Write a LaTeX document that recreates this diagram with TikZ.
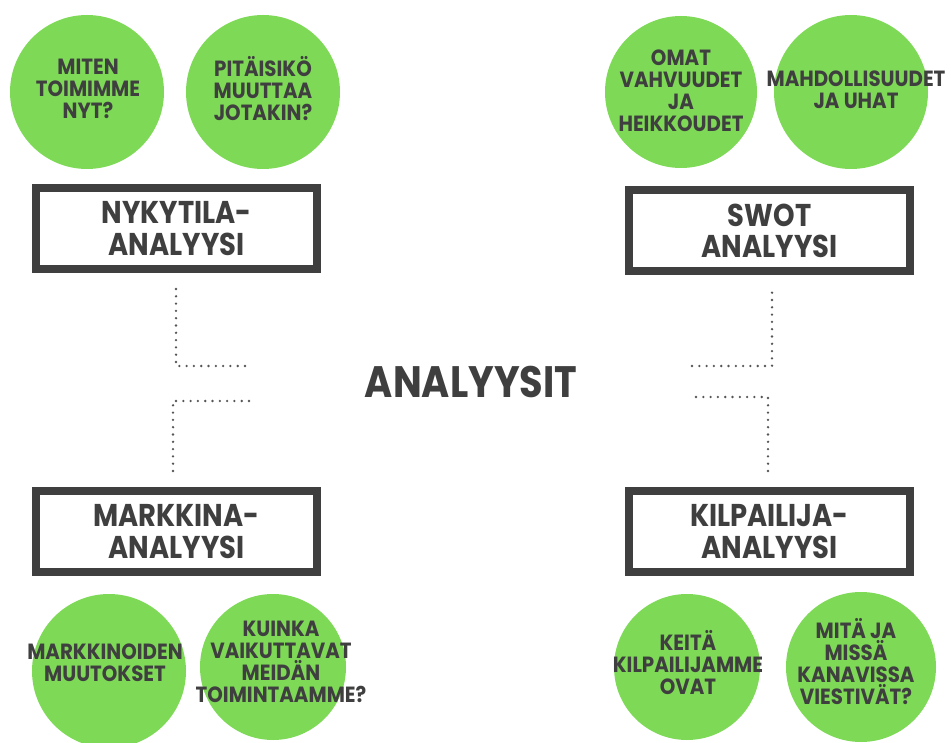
\documentclass[tikz,border=0pt]{standalone}
\usepackage{fontspec}
\newfontfamily\pop{Poppins}[FakeStretch=0.87]
\newfontfamily\popw{Poppins}[FakeStretch=0.9]
\definecolor{grn}{HTML}{7ED957}
\definecolor{ink}{HTML}{3F3F3F}
\definecolor{dotc}{HTML}{555555}
\tikzset{
  bubble/.style={circle, fill=grn, draw=none, inner sep=0pt},
  bubtext/.style={text=ink, align=center, inner sep=0pt, font=\popw\bfseries\fontsize{22}{22}\selectfont},
  headbox/.style={rectangle, draw=ink, line width=8pt, fill=white, minimum width=281pt, minimum height=81pt, inner sep=0pt, text=ink, align=center, font=\pop\bfseries\fontsize{31.5}{31.5}\selectfont},
  dotline/.style={draw=dotc, line width=2.6pt, line cap=round, dash pattern=on 0pt off 7.3pt}
}
\begin{document}
\begin{tikzpicture}[x=1pt,y=-1pt]
\useasboundingbox (0,0) rectangle (951,743);
% bubbles
\node[bubble, minimum size=154pt] (c1) at (87,92) {};
\node[bubble, minimum size=154pt] (c2) at (263,92) {};
\node[bubble, minimum size=152pt] (c3) at (681,92) {};
\node[bubble, minimum size=154pt] (c4) at (851,92) {};
\node[bubble, minimum size=154pt] (c5) at (109,671) {};
\node[bubble, minimum size=146pt] (c6) at (273,667) {};
\node[bubble, minimum size=146pt] (c7) at (687,667) {};
\node[bubble, minimum size=150pt] (c8) at (861,667) {};
\node[bubtext] (t1) at (88,89) {MITEN\\TOIMIMME\\NYT?};
\node[bubtext] (t2) at (263,89) {PITÄISIKÖ\\MUUTTAA\\JOTAKIN?};
\node[bubtext] (t3) at (681,91) {OMAT\\VAHVUUDET\\JA\\HEIKKOUDET};
\node[bubtext] (t4) at (856,90) {MAHDOLLISUUDET\\JA UHAT};
\node[bubtext] (t5) at (105,663) {MARKKINOIDEN\\MUUTOKSET};
\node[bubtext] (t6) at (281,662) {KUINKA\\VAIKUTTAVAT\\MEIDÄN\\TOIMINTAAMME?};
\node[bubtext] (t7) at (688,663) {KEITÄ\\KILPAILIJAMME\\OVAT};
\node[bubtext] (t8) at (856,662) {MITÄ JA\\MISSÄ\\KANAVISSA\\VIESTIVÄT?};
% boxes
\node[headbox] (b1) at (176.5,228.5) {NYKYTILA-\\ANALYYSI};
\node[headbox] (b2) at (769.5,231) {SWOT\\ANALYYSI};
\node[headbox] (b3) at (176.5,531.5) {MARKKINA-\\ANALYYSI};
\node[headbox] (b4) at (769.5,531.5) {KILPAILIJA-\\ANALYYSI};
% title
\node[text=ink, inner sep=0pt, font=\pop\bfseries\fontsize{44}{44}\selectfont] (title) at (471,381.5) {ANALYYSIT};
% dotted connectors
\coordinate (d1a) at (176,289); \coordinate (d1b) at (249,366);
\coordinate (d2a) at (249,401); \coordinate (d2b) at (173,473);
\coordinate (d3a) at (692,366); \coordinate (d3b) at (772,290);
\coordinate (d4a) at (696,397); \coordinate (d4b) at (768,474);
\draw[dotline] (d1a) |- (d1b);
\draw[dotline] (d2a) -| (d2b);
\draw[dotline] (d3a) -| (d3b);
\draw[dotline] (d4a) -| (d4b);
\end{tikzpicture}
\end{document}
